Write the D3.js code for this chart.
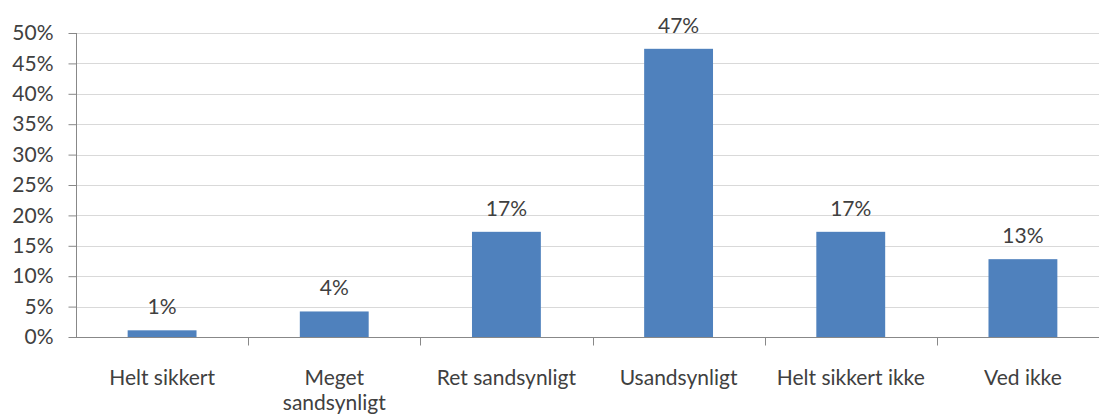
<!DOCTYPE html>
<html>
<head>
<meta charset="utf-8">
<script src="https://cdn.jsdelivr.net/npm/d3@7"></script>
<style>
  body { margin: 0; background: #fff; }
  svg { display: block; }
</style>
</head>
<body>
<svg id="chart" width="1099" height="415"></svg>
<script>
const categories = ["Helt sikkert", "Meget sandsynligt", "Ret sandsynligt", "Usandsynligt", "Helt sikkert ikke", "Ved ikke"]
const values = [1.1, 4.2, 17.3, 47.4, 17.3, 12.8]
const yTicks = [0, 5, 10, 15, 20, 25, 30, 35, 40, 45, 50]

const margin = {top: 33, left: 76, bottom: 78}
const width = 1099, height = 415
const plotRight = 1109 // plot runs a little past the window edge, like the source
const font = "Lato, 'Open Sans', sans-serif"
const fs = 21

const svg = d3.select("#chart")
  .style("font-family", font)

const x = d3.scaleBand()
  .domain(categories)
  .range([margin.left, plotRight])
  .paddingInner(0.6)
  .paddingOuter(0.3)

// separate band scale for the tick marks (category boundaries)
const xEdge = d3.scaleBand().domain(categories).range([margin.left, plotRight])

const y = d3.scaleLinear()
  .domain([0, 50])
  .range([height - margin.bottom, margin.top])

// gridlines
svg.append("g")
  .selectAll("line")
  .data(yTicks.filter(d => d > 0))
  .enter()
  .append("line")
  .attr("x1", margin.left)
  .attr("x2", plotRight)
  .attr("y1", d => Math.round(y(d)) + 0.5)
  .attr("y2", d => Math.round(y(d)) + 0.5)
  .attr("stroke", "#d9d9d9")

// bars
svg.append("g")
  .selectAll("rect")
  .data(values)
  .enter()
  .append("rect")
  .attr("x", (d, i) => x(categories[i]))
  .attr("width", x.bandwidth())
  .attr("y", d => y(d))
  .attr("height", d => y(0) - y(d))
  .attr("fill", "#4f81bd")

// value labels
svg.append("g")
  .selectAll("text")
  .data(values)
  .enter()
  .append("text")
  .attr("x", (d, i) => x(categories[i]) + x.bandwidth() / 2)
  .attr("y", d => y(d) - 16)
  .attr("text-anchor", "middle")
  .attr("font-size", fs)
  .attr("fill", "#404040")
  .text(d => Math.round(d) + "%")

// y axis
const yAxis = d3.axisLeft(y)
  .tickValues(yTicks)
  .tickSize(8)
  .tickPadding(15)
  .tickFormat(d => d + "%")

const gy = svg.append("g")
  .attr("transform", "translate(" + (margin.left + 0.5) + ",0)")
  .call(yAxis)
gy.select(".domain").attr("stroke", "#888").attr("d", "M0," + y(50) + "V" + y(0))
gy.selectAll(".tick line").attr("stroke", "#888")
gy.selectAll(".tick text")
  .attr("font-size", fs)
  .attr("font-family", font)
  .attr("fill", "#404040")

// x axis line + boundary ticks
const xBase = Math.round(y(0)) + 0.5
svg.append("line")
  .attr("x1", margin.left)
  .attr("x2", plotRight)
  .attr("y1", xBase)
  .attr("y2", xBase)
  .attr("stroke", "#888")

svg.append("g")
  .selectAll("line")
  .data(categories)
  .enter()
  .append("line")
  .attr("x1", d => Math.round(xEdge(d) + xEdge.bandwidth()) + 0.5)
  .attr("x2", d => Math.round(xEdge(d) + xEdge.bandwidth()) + 0.5)
  .attr("y1", xBase)
  .attr("y2", xBase + 8)
  .attr("stroke", "#888")

// category labels (wrapped)
const wrapAt = {"Meget sandsynligt": ["Meget", "sandsynligt"]}
const lbl = svg.append("g")
  .selectAll("text")
  .data(categories)
  .enter()
  .append("text")
  .attr("x", d => xEdge(d) + xEdge.bandwidth() / 2)
  .attr("y", xBase + 47)
  .attr("text-anchor", "middle")
  .attr("font-size", fs)
  .attr("fill", "#404040")

lbl.each(function(d){
  const lines = wrapAt[d] || [d]
  const t = d3.select(this)
  lines.forEach((line, i) => {
    t.append("tspan")
      .attr("x", xEdge(d) + xEdge.bandwidth() / 2)
      .attr("dy", i === 0 ? 0 : 25)
      .text(line)
  })
})
</script>
</body>
</html>
